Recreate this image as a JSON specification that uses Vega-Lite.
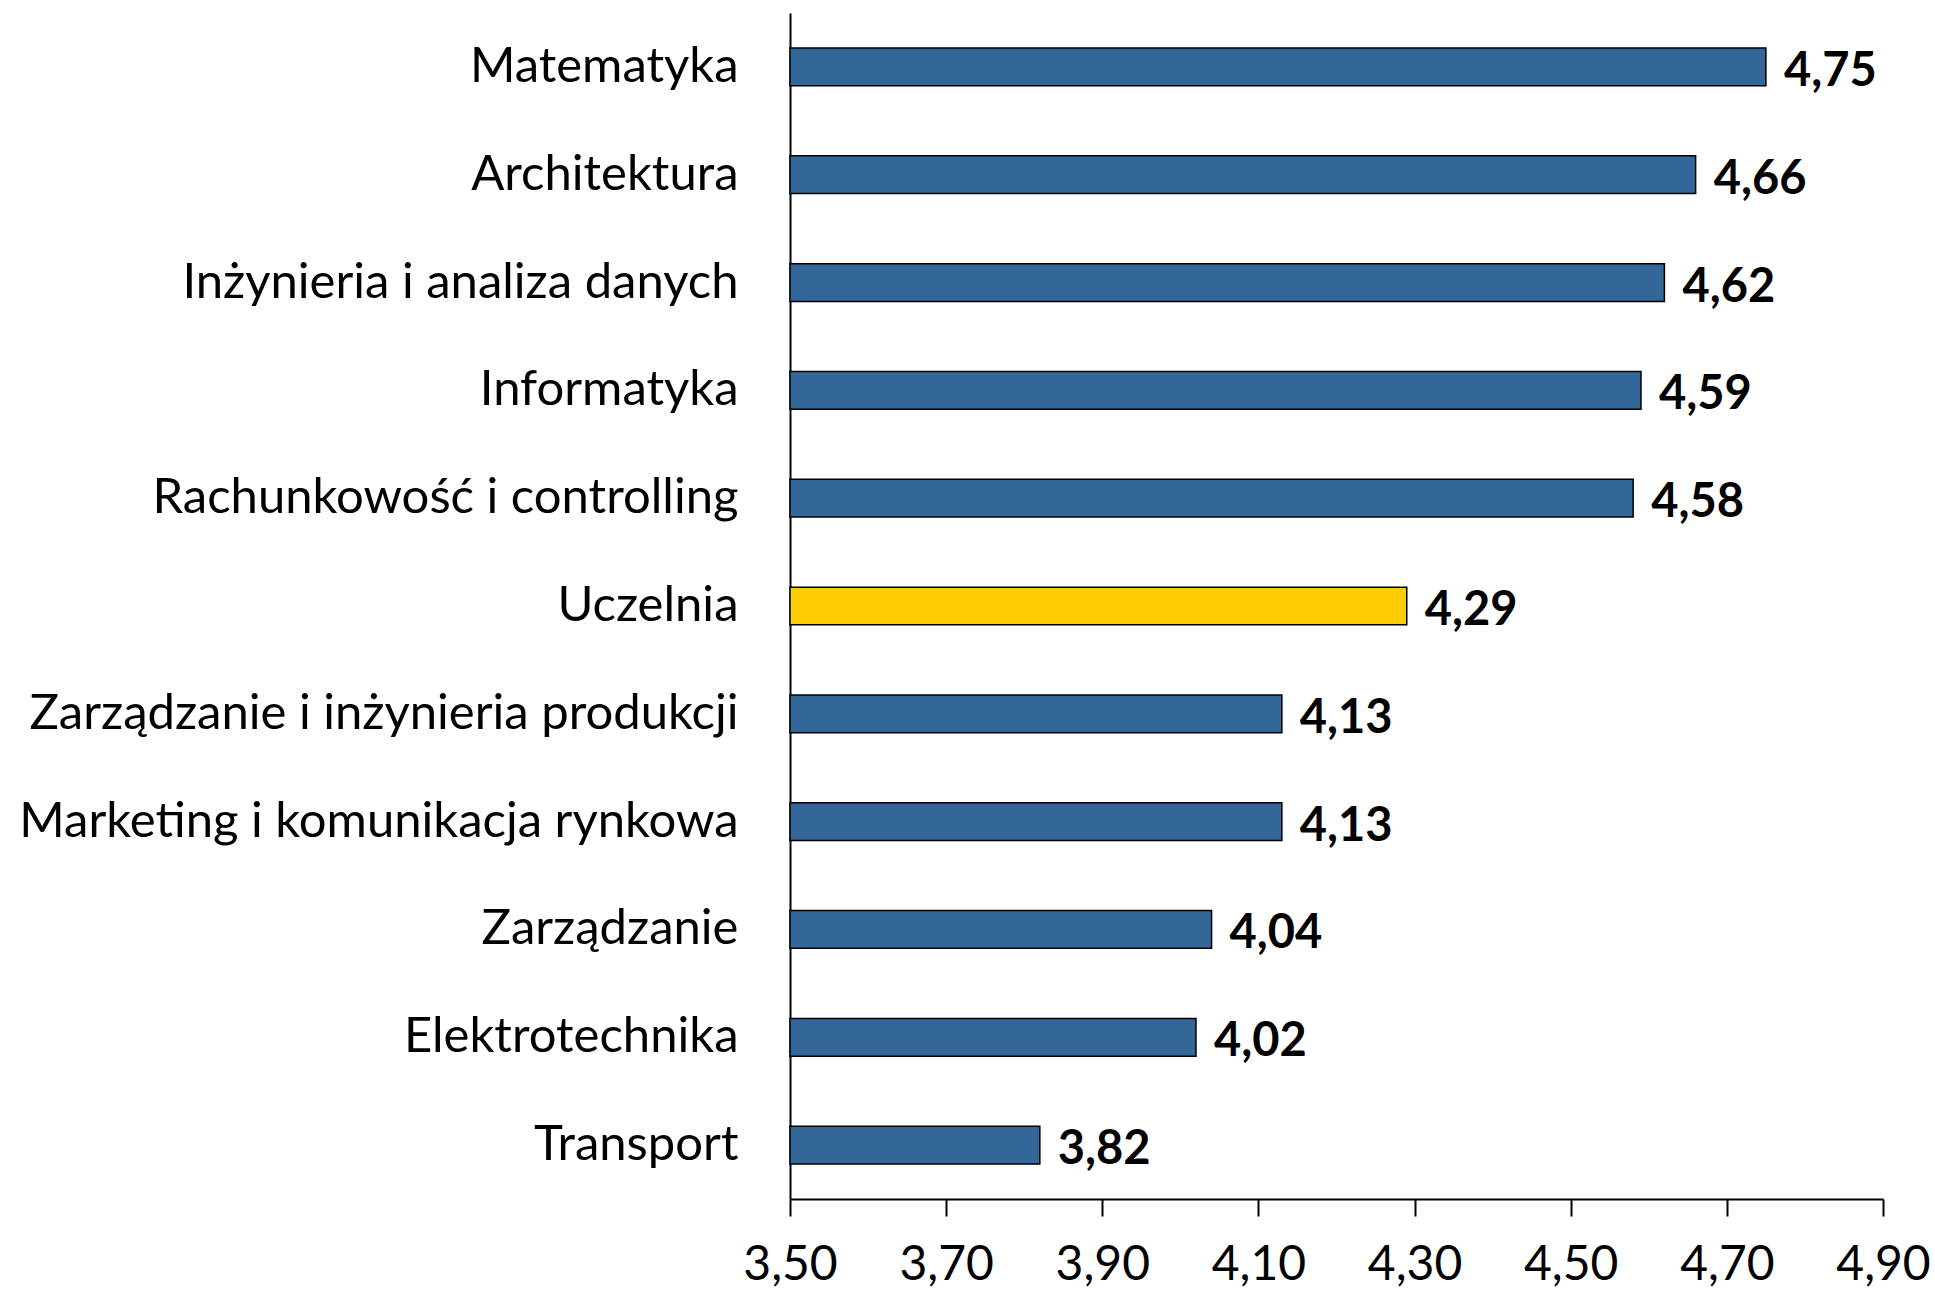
{
  "$schema": "https://vega.github.io/schema/vega-lite/v6.json",
  "width": 1093,
  "height": 1186,
  "autosize": {"type": "none"},
  "padding": {"left": 790, "top": 13, "right": 52, "bottom": 92},
  "background": "white",
  "config": {
    "locale": {"number": {"decimal": ",", "thousands": " ", "grouping": [3], "currency": ["", " zł"]}},
    "view": {"stroke": null},
    "font": "Lato"
  },
  "data": {
    "values": [
      {"kierunek": "Matematyka", "ocena": 4.75, "typ": "kierunek"},
      {"kierunek": "Architektura", "ocena": 4.66, "typ": "kierunek"},
      {"kierunek": "Inżynieria i analiza danych", "ocena": 4.62, "typ": "kierunek"},
      {"kierunek": "Informatyka", "ocena": 4.59, "typ": "kierunek"},
      {"kierunek": "Rachunkowość i controlling", "ocena": 4.58, "typ": "kierunek"},
      {"kierunek": "Uczelnia", "ocena": 4.29, "typ": "uczelnia"},
      {"kierunek": "Zarządzanie i inżynieria produkcji", "ocena": 4.13, "typ": "kierunek"},
      {"kierunek": "Marketing i komunikacja rynkowa", "ocena": 4.13, "typ": "kierunek"},
      {"kierunek": "Zarządzanie", "ocena": 4.04, "typ": "kierunek"},
      {"kierunek": "Elektrotechnika", "ocena": 4.02, "typ": "kierunek"},
      {"kierunek": "Transport", "ocena": 3.82, "typ": "kierunek"}
    ]
  },
  "encoding": {
    "y": {
      "field": "kierunek",
      "type": "nominal",
      "sort": null,
      "scale": {"paddingInner": 0.65, "paddingOuter": 0.325},
      "axis": {
        "title": null,
        "ticks": false,
        "domain": true,
        "domainColor": "black",
        "domainWidth": 2,
        "labelFont": "Lato",
        "labelFontSize": 49,
        "labelColor": "black",
        "labelPadding": 52,
        "labelLimit": 0
      }
    },
    "x": {
      "field": "ocena",
      "type": "quantitative",
      "scale": {"domain": [3.5, 4.9], "zero": false, "nice": false, "clamp": true},
      "axis": {
        "title": null,
        "values": [3.5, 3.7, 3.9, 4.1, 4.3, 4.5, 4.7, 4.9],
        "format": ".2f",
        "grid": false,
        "domainColor": "black",
        "domainWidth": 2,
        "tickColor": "black",
        "tickWidth": 2,
        "tickSize": 17,
        "labelFont": "Lato",
        "labelFontSize": 48,
        "labelColor": "black",
        "labelPadding": 25,
        "labelFlush": false
      }
    }
  },
  "layer": [
    {
      "mark": {"type": "bar", "stroke": "black", "strokeWidth": 1.5},
      "encoding": {
        "x2": {"datum": 3.5},
        "color": {
          "field": "typ",
          "type": "nominal",
          "scale": {"domain": ["kierunek", "uczelnia"], "range": ["#336699", "#FFCC00"]},
          "legend": null
        }
      }
    },
    {
      "mark": {"type": "text", "align": "left", "baseline": "middle", "dx": 18, "dy": 5, "font": "Lato", "fontSize": 47, "fontWeight": "bold", "color": "black"},
      "encoding": {
        "text": {"field": "ocena", "type": "quantitative", "format": ".2f"}
      }
    }
  ]
}
